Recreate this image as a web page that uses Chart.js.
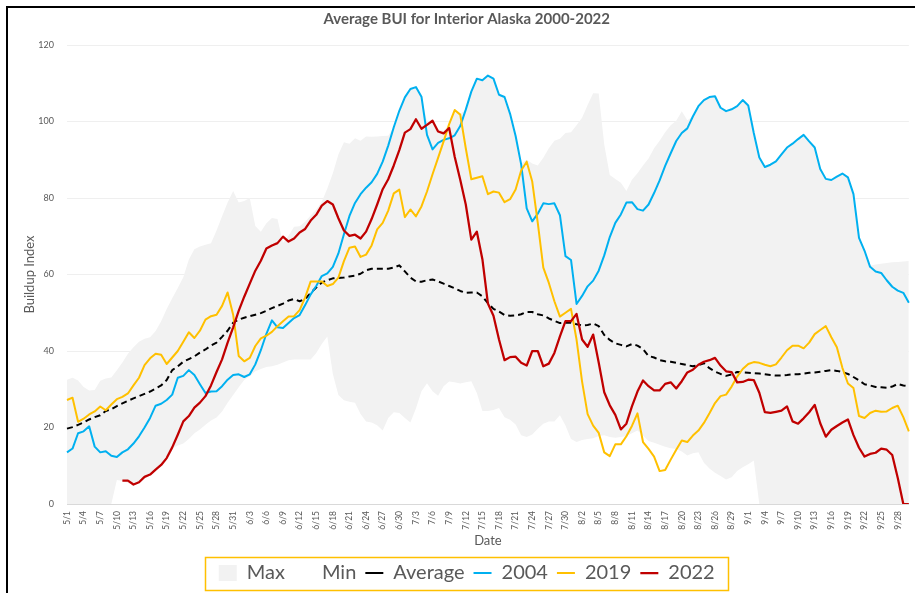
<!DOCTYPE html>
<html><head><meta charset="utf-8">
<script src="https://cdn.jsdelivr.net/npm/chart.js@4"></script>
<style>
html,body{margin:0;padding:0;background:#fff;overflow:hidden;}
#wrap{position:relative;width:915px;height:593px;overflow:hidden;}
#frame{position:absolute;left:6px;top:6px;width:930px;height:610px;border-left:2px solid #000;border-top:2px solid #000;pointer-events:none;}
canvas{position:absolute;left:0;top:0;}
</style></head><body>
<div id="wrap"><canvas id="c" width="915" height="593"></canvas><div id="frame"></div></div>
<script>
const dates = ["5/1","5/2","5/3","5/4","5/5","5/6","5/7","5/8","5/9","5/10","5/11","5/12","5/13","5/14","5/15","5/16","5/17","5/18","5/19","5/20","5/21","5/22","5/23","5/24","5/25","5/26","5/27","5/28","5/29","5/30","5/31",
"6/1","6/2","6/3","6/4","6/5","6/6","6/7","6/8","6/9","6/10","6/11","6/12","6/13","6/14","6/15","6/16","6/17","6/18","6/19","6/20","6/21","6/22","6/23","6/24","6/25","6/26","6/27","6/28","6/29","6/30",
"7/1","7/2","7/3","7/4","7/5","7/6","7/7","7/8","7/9","7/10","7/11","7/12","7/13","7/14","7/15","7/16","7/17","7/18","7/19","7/20","7/21","7/22","7/23","7/24","7/25","7/26","7/27","7/28","7/29","7/30","7/31",
"8/1","8/2","8/3","8/4","8/5","8/6","8/7","8/8","8/9","8/10","8/11","8/12","8/13","8/14","8/15","8/16","8/17","8/18","8/19","8/20","8/21","8/22","8/23","8/24","8/25","8/26","8/27","8/28","8/29","8/30","8/31",
"9/1","9/2","9/3","9/4","9/5","9/6","9/7","9/8","9/9","9/10","9/11","9/12","9/13","9/14","9/15","9/16","9/17","9/18","9/19","9/20","9/21","9/22","9/23","9/24","9/25","9/26","9/27","9/28","9/29","9/30"];

const maxBui = [32.5,33,32.3,30.6,29.7,29.8,32.2,32.8,33.1,35,
37,39.3,41,42.4,43.2,43.6,45.2,47.8,51,53.8,
56.5,59.3,63.9,66.6,67.3,67.8,68.2,71.5,75.2,78.8,
81.8,78.8,79.2,80,72.7,71.2,73.4,74.8,74.5,68.3,
70.1,72.5,72.6,73.8,75.4,77,79,82.5,86.5,91.4,
94.6,94.2,95.6,95,96.1,96,96.1,96.2,96.3,98.5,
102.8,106.3,108.5,109,106.5,100,100.3,98,97.5,99.3,
103,102,103.1,107.8,111.2,110.8,112,111.2,107,106.4,
102,96.2,89,90,89,88.5,90.5,93,95,95.5,
97,97.2,99,101,104.3,107.4,107.3,94,86,85,
84,81.8,84.8,86.5,88.5,90.3,93,95,97.2,99,
100.2,102.7,100.3,101.3,104,105.6,106.4,106.6,103.6,102.7,
103.2,104,105.6,104.2,97,90.6,88.1,88.7,89.6,91.4,
93.2,94.2,95.4,96.5,94.8,93.2,87.6,85,84.7,85.6,
86.4,85.4,81,69.6,66.2,62.3,62.6,62.8,63,63.2,
63.3,63.4,63.5];

const minBui = [0,0,0,0,0,0,0,0,0,
6.3,6,5.5,5,6,7,7.8,9,10.5,12.5,14.5,
15.3,15.8,17,18.5,19.5,20.7,21.8,22.6,24.2,26.5,
28.5,30.5,32.4,33.4,34.7,35.3,35.8,36,36.4,37,
37.6,37.8,37.8,37.8,37.8,39.5,41.8,43.8,34,28.5,
27.1,26.7,26.5,23.5,21.6,21.3,20.6,19.2,22.5,24,
23.8,22.5,21.3,25,29.5,31.6,29.5,28.3,30.8,32,
31.8,31.5,31.8,32.1,29,24.3,24.3,24.6,25.1,22.7,
22,20.8,18,17.5,18.2,19.7,21,21.6,21.6,23.2,
20.5,17,16.2,16.7,17,17.2,17.8,18,17.5,17.3,
17.5,17.8,18.5,19.2,17.9,16.5,16,15.5,15,14.6,
14.4,13.7,12.7,13.3,13.5,10.8,9.3,8.2,7.3,6.4,
7,8.6,9.6,10.4,11.4,0,0,0,0,0,
0,0,0,0,0,0,0,0,0,0,0,0,0,0,0,0,0,0,0,0,0,0,0];

const avgBui = [19.7,20.1,20.7,21.3,22.1,22.7,23.2,24.3,24.8,25.6,
26.3,27,27.6,28.2,28.8,29.4,30.2,31,32.4,35,
36,37.2,37.9,38.6,39.6,40.4,41.4,42.2,43.7,45.3,
47.4,48.2,48.7,49.1,49.5,49.9,50.5,51.2,51.8,52.4,
53.2,53.6,53,53.6,55.2,56.6,57.9,58.5,59,59.1,
59.2,59.5,59.7,60.2,61.1,61.5,61.5,61.5,61.5,61.8,
62.4,60.8,59.2,58.2,58.1,58.5,58.7,58.2,57.6,57,
56.4,55.7,55.2,55.3,55.3,54.3,52.5,51,50.3,49.4,
49.2,49.3,49.6,50.2,50.2,49.6,49.3,48.5,47.9,47.3,
47.4,47.4,47,46.7,46.8,47.2,46.5,44.2,42.9,42,
41.6,41.2,41.8,41.4,40.5,38.7,38.3,37.6,37.3,37.2,
36.9,36.6,36.3,36,36.3,36.8,35.5,34.6,34,33.5,
33.9,34.5,34.4,34.3,34.2,34.1,33.9,33.7,33.6,33.6,
33.7,33.9,33.9,34.1,34.3,34.4,34.6,34.8,35,34.8,
34.5,34,33.2,32.3,31.3,31,30.6,30.5,30.4,30.7,
31.4,31,30.8];

const bui2004 = [13.5,14.5,18.5,19,20.3,15,13.5,13.8,12.6,12.3,
13.5,14.3,15.8,17.7,20,22.5,25.7,26.2,27.2,28.6,
33,33.5,35,33.7,31.3,29,29.4,29.5,30.8,32.5,
33.7,33.9,33.2,33.9,36.5,40.2,44.5,48,46.2,46,
47.3,48.6,49.4,52,54.8,57,59.6,60.3,62,65.5,
70.5,75.3,78.7,81,82.7,84.1,86.3,89.5,93.7,98.5,
102.8,106.3,108.5,109,106.5,96.5,92.7,94.4,95.2,95.6,
96.4,98.8,103.1,107.8,111.2,110.8,112,111.2,107,106.4,
102,96.2,88.8,77.3,73.9,75.9,78.6,78.4,78.6,75.5,
64.8,63.8,52.3,54.4,56.9,58.4,61,65,69.8,73.5,
75.7,78.8,78.9,77.1,76.7,78.3,81.3,84.6,88.4,91.7,
94.9,97,98.2,101.3,104,105.6,106.4,106.6,103.6,102.7,
103.2,104,105.6,104.2,97,90.6,88.1,88.7,89.6,91.4,
93.2,94.2,95.4,96.5,94.8,93.2,87.6,85,84.7,85.6,
86.4,85.4,81,69.6,66.2,62,60.8,60.4,58.5,56.8,
55.8,55.2,52.6];

const bui2019 = [27.2,27.8,21.5,22.3,23.4,24.2,25.5,24.5,26,27.4,
28,28.9,31,33,36.3,38.1,39.3,39,36.6,38.3,
40,42.4,44.9,43.4,45.3,48.2,49.1,49.5,51.8,55.3,
49.5,38.7,37.3,38.2,41.3,43.3,44,45,46.5,47.8,
49,49.1,50.7,54,58.2,58.2,58.2,57,57.5,59.2,
63.5,67,67.3,64.6,65.2,67.6,71.8,73.5,76.7,81.2,
82.2,75,77,75.2,77.8,81.7,86.2,90.5,94.8,99.3,
103,101.8,93,84.9,85.3,85.7,81,81.7,81.4,78.9,
79.7,82.2,87.2,89.5,84.3,73.5,61.8,57.8,53,49,
50,51,43,32,23.5,20.5,18.6,13.5,12.5,15.6,
15.6,17.7,20.4,23.7,16.2,14.4,12.4,8.6,8.9,11.6,
14.2,16.6,16.2,17.9,19.2,21.2,23.7,26.4,28.2,28.6,
30.7,33.3,35.3,36.6,37.1,36.9,36.4,36,36.5,38.3,
40.2,41.4,41.4,40.7,42.2,44.4,45.5,46.5,43.6,41,
35.6,31.5,30.3,23,22.5,23.8,24.4,24.1,24.2,25.1,
25.7,22.7,19];

const bui2022 = [null,null,null,null,null,null,null,null,null,null,
6.1,6.1,5.1,5.7,7.1,7.7,9,10.2,12,14.8,
18.1,21.6,23,25.2,26.5,28.2,31,34.5,37.8,42.2,
46.2,50.5,54.2,57.6,61,63.6,66.8,67.6,68.2,69.9,
68.6,69.4,71,71.9,74.1,75.6,78,79.2,78.3,74.7,
71.5,70.1,70.4,69.4,71.2,74.5,78.3,82.3,84.9,88.5,
92.5,97.1,98,100.6,98.1,99.1,100.2,97.4,96.9,98.3,
90.8,84.8,78.3,69.1,71.2,64,52.4,49.2,43,37.6,
38.4,38.5,36.9,36.2,40,40,36,36.7,39.5,43.8,
47.8,47.8,49.7,43,41.1,44.3,37,29.2,25.8,23.3,
19.5,21,25.5,29.4,32.3,30.8,29.7,29.7,31.4,31.8,
30.2,32.1,34.4,35.1,36.4,37.2,37.6,38.2,36.2,34.7,
34.5,31.8,31.9,32.5,32.4,29.1,24,23.8,24.1,24.4,
25.5,21.6,21,22.4,24,25.9,21.1,17.6,19.4,20.4,
21.3,22.1,18,14.7,12.4,13.1,13.4,14.5,14.2,12.8,
6.8,0,0];

const yTicks = [0,20,40,60,80,100,120];

const TEXT = '#595959';
const FONT = 'Lato';

const legendFrame = {
  id: 'legendFrame',
  afterDraw(chart) {
    const lg = chart.legend;
    const hb = lg && lg.legendHitBoxes;
    if (!hb || !hb.length) return;
    const ctx = chart.ctx;
    const first = hb[0], last = hb[hb.length - 1];
    const l = first.left - 14;
    const r = last.left + last.width + 13;
    const cy = first.top + first.height / 2;
    ctx.save();
    ctx.strokeStyle = '#FFC000';
    ctx.lineWidth = 1.5;
    ctx.strokeRect(Math.round(l) + 0.5, Math.round(cy - 16.5) + 0.5, Math.round(r - l), 33);
    ctx.restore();
  }
};

new Chart(document.getElementById('c'), {
  type: 'line',
  data: {
    labels: dates,
    datasets: [
      { label: 'Max', data: maxBui, fill: 'origin', backgroundColor: '#F2F2F2', borderColor: 'rgba(0,0,0,0)', borderWidth: 0, pointStyle: 'rect', order: 6 },
      { label: 'Min', data: minBui, fill: 'origin', backgroundColor: '#FFFFFF', borderColor: 'rgba(0,0,0,0)', borderWidth: 0, pointStyle: 'rect', order: 5 },
      { label: 'Average', data: avgBui, fill: false, borderColor: '#000000', backgroundColor: '#000000', borderWidth: 2, borderDash: [6, 4], pointStyle: 'line', order: 4 },
      { label: '2004', data: bui2004, fill: false, borderColor: '#00B0F0', backgroundColor: '#00B0F0', borderWidth: 2, pointStyle: 'line', order: 3 },
      { label: '2019', data: bui2019, fill: false, borderColor: '#FFC000', backgroundColor: '#FFC000', borderWidth: 2, pointStyle: 'line', order: 2 },
      { label: '2022', data: bui2022, fill: false, borderColor: '#C00000', backgroundColor: '#C00000', borderWidth: 2.25, pointStyle: 'line', order: 1 }
    ]
  },
  options: {
    responsive: false,
    animation: false,
    devicePixelRatio: 1,
    layout: { padding: { left: 20, right: 1.5, top: 0, bottom: 0 } },
    elements: { point: { radius: 0, hoverRadius: 0 }, line: { tension: 0, borderJoinStyle: 'round' } },
    plugins: {
      tooltip: { enabled: false },
      title: {
        display: true,
        text: 'Average BUI for Interior Alaska 2000-2022',
        color: TEXT,
        font: { family: FONT, size: 15, weight: 'bold' },
        padding: { top: 10, bottom: 17 }
      },
      legend: {
        display: true,
        position: 'bottom',
        labels: {
          color: TEXT,
          font: { family: FONT, size: 20 },
          usePointStyle: true,
          pointStyleWidth: 18,
          boxHeight: 16,
          padding: 9,
          sort: (a, b) => a.datasetIndex - b.datasetIndex
        }
      }
    },
    scales: {
      x: {
        type: 'category',
        offset: false,
        z: 1,
        grid: { display: false, drawTicks: false },
        border: { display: true, color: '#D9D9D9', width: 1 },
        ticks: {
          autoSkip: false, maxRotation: 90, minRotation: 90, padding: 7,
          color: TEXT, font: { family: FONT, size: 8.5 },
          callback: (v, i) => (i % 3 === 0 ? dates[i] : null)
        },
        title: { display: true, text: 'Date', color: TEXT, font: { family: FONT, size: 13 }, padding: { top: 0, bottom: 5 } },
        afterFit: (s) => { s.height = 50; }
      },
      y: {
        min: 0, max: 120,
        afterBuildTicks: (s) => { s.ticks = yTicks.map(v => ({ value: v })); },
        grid: { color: '#EFEFEF', lineWidth: 1, drawTicks: false },
        border: { display: false },
        ticks: { padding: 13, color: TEXT, font: { family: FONT, size: 9 } },
        title: { display: true, text: 'Buildup Index', color: TEXT, font: { family: FONT, size: 13 }, padding: { top: 2, bottom: 0 } },
        afterFit: (s) => { s.width = 47; }
      }
    }
  },
  plugins: [legendFrame]
});
</script>
</body></html>
